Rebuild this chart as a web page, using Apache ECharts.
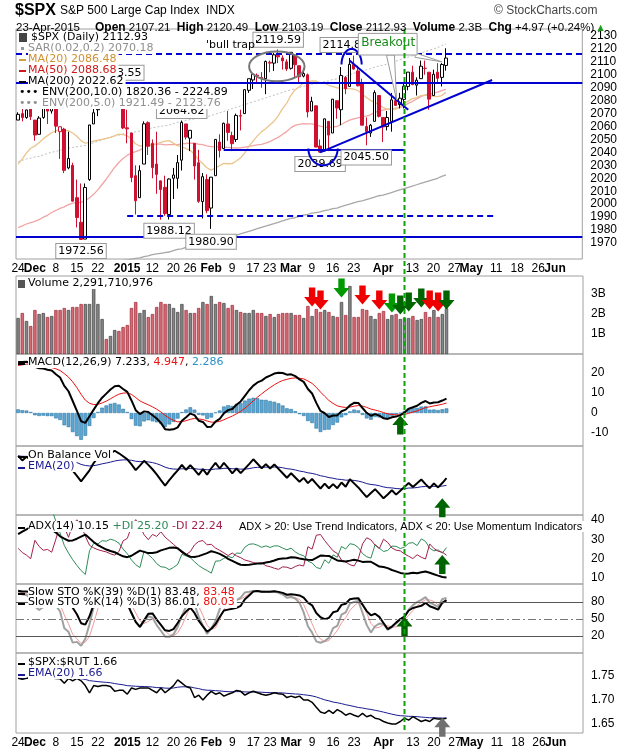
<!DOCTYPE html>
<html><head><meta charset="utf-8">
<script src="https://cdn.jsdelivr.net/npm/echarts/dist/echarts.min.js"></script>
<style>html,body{margin:0;padding:0;background:#fff}#c{width:620px;height:750px}</style>
</head><body><div id="c"></div>
<script>
// ---------- DATA ----------
const prefixClose=[1985.54,1984.13,1998.98,2001.57,2011.36,2010.40,1994.29,1982.77,1998.30,1965.99,1982.85,1977.80,1972.29,1946.16,1946.17,1967.90,1964.82,1935.10,1968.89,1928.21,1906.13,1874.74,1877.70,1862.49,1862.76,1886.76,1904.01,1941.28,1927.11,1950.82,1964.58,1961.63,1985.05,1982.30,1994.65,2018.05,2017.81,2012.10,2023.57,2031.21,2031.92,2038.26,2039.68,2038.25,2039.33,2039.82,2041.32,2051.80,2048.72,2052.75,2063.50];
const openP=[2065,2070,2067,2074,2065,2054,2067,2074,2072,2074,2056,2058,2028,2030,2005,1986,1973,2019,2062,2073,2081,2083,2084,2087,2089,2083,2059,2055,2022,2005,2031,2063,2047,2031,2018,2013,1992,2020,2020,2034,2062,2051,2047,2032,2002,2019,1997,2022,2048,2043,2062,2053,2050,2068,2070,2088,2096,2099,2098,2097,2109,2109,2115,2113,2110,2105,2115,2107,2099,2100,2072,2076,2045,2041,2064,2055,2080,2073,2098,2091,2108,2103,2093,2060,2055,2064,2084,2067,2060,2064,2080,2077,2081,2091,2102,2092,2097,2105,2102,2084,2102,2098,2107.21];
const highP=[2071,2074,2073,2075,2065,2068,2076,2076,2078,2076,2060,2059,2056,2032,2019,2016,2016,2061,2077,2079,2086,2087,2093,2093.55,2089,2086,2073,2055,2030,2030,2064,2064,2050,2056,2018,2022,2020,2028,2038,2064.62,2062,2057,2047,2042,2024,2023,2021,2050,2054,2063,2072,2056,2070,2073,2089,2097,2101,2101,2102,2111,2111,2117,2119.59,2115,2112,2117.5,2115,2107,2105,2101,2083,2076,2050,2066,2064,2081,2080,2106,2099,2113,2114.86,2107,2097,2067,2062,2088,2084,2067,2072,2086,2089,2086,2093,2102,2107,2098,2111,2111,2102,2104,2109,2109,2120.49];
const lowP=[2065,2064,2066,2065,2049,2054,2066,2062,2070,2055,2035,2024,2027,2002,1982,1972.56,1973,2018,2062,2068,2079,2081,2084,2086,2079,2058,2047,2017,1992,2005,2031,2038,2020,2008,1988,1991,1988.12,2004,2012,2026,2050,2041,2019,2001,1989,1993,1980.90,2022,2036,2043,2049,2041,2048,2057,2070,2086,2089,2093,2090,2085,2102,2103,2109,2104,2103,2104,2098,2094,2098,2067,2072,2044,2039.69,2041,2041,2055,2066,2061,2085,2091,2104,2091,2061,2045.50,2052,2064,2067,2048,2057,2056,2076,2074,2074,2088,2092,2084,2097,2100,2073,2084,2094,2091,2103.19];
const closeP=[2069.41,2067.03,2072.83,2067.56,2053.44,2066.55,2074.33,2071.92,2075.37,2060.31,2059.82,2026.14,2035.33,2002.33,1989.63,1972.74,2012.89,2061.23,2070.65,2078.54,2082.17,2081.88,2088.77,2090.57,2080.35,2058.90,2058.20,2020.58,2002.61,2025.90,2062.14,2044.81,2028.26,2023.03,2011.27,1992.67,2019.42,2022.55,2032.12,2063.15,2051.82,2057.09,2029.55,2002.16,2021.25,1994.99,2020.85,2050.03,2041.51,2062.52,2055.47,2046.74,2068.59,2068.53,2088.48,2096.99,2100.34,2099.68,2097.45,2110.30,2109.66,2115.48,2113.86,2110.74,2104.50,2117.39,2107.78,2098.53,2101.04,2071.26,2079.43,2044.16,2040.24,2065.95,2053.40,2081.19,2074.28,2099.50,2089.27,2108.10,2104.42,2091.50,2061.05,2056.15,2061.02,2086.24,2067.89,2059.69,2066.96,2080.62,2076.33,2081.90,2091.18,2102.06,2092.43,2095.84,2106.63,2104.99,2081.18,2100.40,2097.29,2107.96,2112.93];
const volumeB=[1.8,2.05,1.65,1.4,2.2,2.0,2.05,1.85,1.9,2.2,2.2,2.3,2.2,2.35,2.35,2.5,2.5,2.5,3.35,2.5,1.75,0.75,0.9,1.2,1.15,1.35,1.45,2.3,2.6,2.05,2.2,1.85,2.0,2.35,2.6,2.5,2.5,2.3,2.1,2.5,2.2,2.05,2.05,2.3,2.6,2.5,2.9,2.5,2.6,2.55,2.3,2.45,2.2,2.1,2.05,2.05,2.2,2.05,2.05,1.9,2.0,1.85,2.0,2.05,2.05,2.05,1.95,1.95,1.8,2.4,1.9,2.25,2.1,2.2,2.1,1.9,1.85,2.6,1.95,3.4,1.85,1.85,2.25,2.2,1.9,1.75,2.05,2.15,1.75,1.95,2.0,1.75,1.8,1.8,1.9,1.7,1.75,2.1,1.85,2.2,1.85,2.0,2.29];
const ma200=[1936,1937,1938,1938.5,1939.5,1940,1941,1942,1943,1943.5,1944.5,1945,1946,1946.5,1947,1947.5,1948,1949,1950,1951,1952,1953,1954,1955,1955.5,1956.5,1957,1957.5,1958,1958.5,1959.5,1960,1961,1961.5,1962,1962.5,1963,1964,1965,1965.5,1966.5,1967,1967.5,1968,1968.5,1969,1970,1971,1972,1973,1974,1975,1976,1977,1978,1979,1980,1981,1982,1983,1984,1985,1986,1987,1988,1989,1989.5,1990.5,1991.5,1992,1993,1993.5,1994,1995,1995.5,1996.5,1997,1998,1999,2000,2001,2002,2002.5,2003.5,2004.5,2005.5,2006.5,2007,2008,2009,2010,2011,2012,2013,2014,2015,2016,2017,2018,2019,2020,2021.5,2022.62];
const spxRut=[1.745,1.743,1.745,1.748,1.750,1.752,1.750,1.748,1.746,1.745,1.744,1.735,1.745,1.740,1.745,1.740,1.730,1.715,1.730,1.728,1.730,1.730,1.728,1.718,1.720,1.720,1.712,1.725,1.722,1.725,1.725,1.725,1.720,1.715,1.725,1.715,1.722,1.730,1.742,1.735,1.728,1.725,1.705,1.710,1.700,1.710,1.718,1.712,1.715,1.708,1.712,1.715,1.720,1.718,1.710,1.715,1.718,1.715,1.712,1.710,1.712,1.715,1.713,1.712,1.705,1.708,1.705,1.708,1.700,1.700,1.695,1.685,1.675,1.672,1.678,1.672,1.680,1.675,1.668,1.672,1.668,1.665,1.672,1.665,1.668,1.662,1.660,1.655,1.652,1.650,1.650,1.655,1.662,1.658,1.665,1.660,1.655,1.658,1.655,1.662,1.660,1.660,1.662];
const holidays=['2014-11-27','2014-12-25','2015-01-01','2015-01-19','2015-02-16','2015-04-03','2015-05-25'];
const tickLabels=[['2014-11-24','24'],['2014-12-01','Dec'],['2014-12-08','8'],['2014-12-15','15'],['2014-12-22','22'],['2015-01-02','2015'],['2015-01-12','12'],['2015-01-20','20'],['2015-01-26','26'],['2015-02-02','Feb'],['2015-02-09','9'],['2015-02-17','17'],['2015-02-23','23'],['2015-03-02','Mar'],['2015-03-09','9'],['2015-03-16','16'],['2015-03-23','23'],['2015-04-01','Apr'],['2015-04-13','13'],['2015-04-20','20'],['2015-04-27','27'],['2015-05-01','May'],['2015-05-11','11'],['2015-05-18','18'],['2015-05-26','26'],['2015-06-01','Jun']];
const boldLabels=['Dec','2015','Feb','Mar','Apr','May','Jun'];
const N_CATS=135;

// ---------- dates ----------
const dates=[];
{let d=new Date(Date.UTC(2014,10,24));while(dates.length<N_CATS){const w=d.getUTCDay();const s=d.toISOString().slice(0,10);if(w!==0&&w!==6&&holidays.indexOf(s)<0)dates.push(s);d=new Date(d.getTime()+86400000);}}
const lblMap={};tickLabels.forEach(t=>lblMap[t[0]]=t[1]);
const n=closeP.length, P=prefixClose.length;

// ---------- indicators ----------
function sma(a,k){return a.map((v,i)=>{if(i<k-1||v==null)return null;let s=0;for(let j=i-k+1;j<=i;j++){if(a[j]==null)return null;s+=a[j];}return s/k;});}
function ema(a,k){const al=2/(k+1);let e=null;return a.map(v=>{if(v==null)return e;e=e==null?v:e+al*(v-e);return e;});}
const fC=prefixClose.concat(closeP), fH=prefixClose.concat(highP), fL=prefixClose.concat(lowP);
const ma20=sma(fC,20).slice(P), ma50=sma(fC,50).slice(P);
const env5=ma200.map(v=>v*1.05);
const e12=ema(fC,12),e26=ema(fC,26);const macdF=e12.map((v,i)=>v-e26[i]);const sigF=ema(macdF,9);
const macd=macdF.slice(P),sig=sigF.slice(P),hist=macd.map((v,i)=>v-sig[i]);
function fastK(k){return fC.map((c,i)=>{const a=Math.max(0,i-k+1);let hh=-1e9,ll=1e9;for(let j=a;j<=i;j++){hh=Math.max(hh,fH[j]);ll=Math.min(ll,fL[j]);}return hh===ll?50:(c-ll)/(hh-ll)*100;});}
const sk39=sma(fastK(39),3).slice(P), sk14F=sma(fastK(14),3), sk14=sk14F.slice(P), sd14=sma(sk14F,3).slice(P);
const adx=[],pdi=[],mdi=[];{let sTR=0,sP=0,sM=0,cnt=0,dxs=[],ad=null;const A=[],PD=[],MD=[];
for(let i=1;i<fC.length;i++){const tr=Math.max(fH[i]-fL[i],Math.abs(fH[i]-fC[i-1]),Math.abs(fL[i]-fC[i-1]));const up=fH[i]-fH[i-1],dn=fL[i-1]-fL[i];const pm=(up>dn&&up>0)?up:0,mm=(dn>up&&dn>0)?dn:0;cnt++;
if(cnt<=14){sTR+=tr;sP+=pm;sM+=mm;}else{sTR=sTR-sTR/14+tr;sP=sP-sP/14+pm;sM=sM-sM/14+mm;}
let p=null,m=null,a=null;if(cnt>=14){p=100*sP/sTR;m=100*sM/sTR;const dx=(p+m)?100*Math.abs(p-m)/(p+m):0;if(ad==null){dxs.push(dx);if(dxs.length===14)ad=dxs.reduce((x,y)=>x+y)/14;}else ad=(ad*13+dx)/14;a=ad;}
A[i]=a;PD[i]=p;MD[i]=m;}
for(let i=P;i<fC.length;i++){adx.push(A[i]);pdi.push(PD[i]);mdi.push(MD[i]);}}
const obv=[];{let o=0;for(let i=0;i<n;i++){const pc=i?closeP[i-1]:prefixClose[P-1];if(closeP[i]>pc)o+=volumeB[i];else if(closeP[i]<pc)o-=volumeB[i];obv.push(o);}}
const obvE=ema(obv,20), ratioE=ema(spxRut,20);

// ---------- styling data ----------
const RED='#d01030';
const candleData=closeP.map((c,i)=>{const pc=i?closeP[i-1]:prefixClose[P-1];const col=c<pc?RED:'#000';const up=c>=openP[i];
return {value:[openP[i],c,lowP[i],highP[i]],itemStyle:{color:up?'#fff':col,color0:up?'#fff':col,borderColor:col,borderColor0:col,borderWidth:1}};});
const volData=volumeB.map((v,i)=>{const pc=i?closeP[i-1]:prefixClose[P-1];const dn=closeP[i]<pc;return {value:v,itemStyle:{color:dn?'#d36b74':'#858585',borderColor:dn?'#a02838':'#404040',borderWidth:0.7}};});

// ---------- layout ----------
const grids=[[29,230],[276,78],[354,92],[446,69],[515,69],[584,69],[653,80]];
const FONT='Liberation Sans';
function xAx(gi,show){return {type:'category',gridIndex:gi,data:dates,boundaryGap:true,axisLine:{show:false},axisTick:{show:false},splitLine:{show:false},
axisLabel:{show:show,interval:0,margin:4,fontFamily:FONT,fontSize:12,color:'#000',formatter:v=>{const l=lblMap[v];if(!l)return '';return boldLabels.indexOf(l)>=0?'{b|'+l+'}':l;},rich:{b:{fontWeight:'bold',fontSize:12,fontFamily:FONT,color:'#000'}}}};}
function yAx(gi,min,max,vals,fmt){return {type:'value',gridIndex:gi,position:'right',min:min,max:max,axisLine:{show:false},axisTick:{show:false},splitLine:{show:false},
axisLabel:{show:!!vals,customValues:vals||undefined,fontFamily:FONT,fontSize:12,color:'#000',margin:8,formatter:fmt||(v=>v)}};}
const obvMin=Math.min(...obv),obvMax=Math.max(...obv),obvR=obvMax-obvMin;
const xAxes=grids.map((g,i)=>xAx(i,i===0||i===6));
const yAxes=[
 yAx(0,1957.6,2135.4,[1970,1980,1990,2000,2010,2020,2030,2040,2050,2060,2070,2080,2090,2100,2110,2120,2130]),
 yAx(1,0,3.9,[1,2,3],v=>v+'B'),
 yAx(2,-16.5,29.5,[-10,0,10,20]),
 yAx(3,obvMin-obvR*0.35,obvMax+obvR*0.1,null),
 yAx(4,6.9,42.6,[10,20,30,40]),
 yAx(5,-9.8,111.8,[20,50,80]),
 yAx(6,1.631,1.798,[1.65,1.70,1.75],v=>v.toFixed(2))
];
function ln(name,data,gi,color,w,extra){return Object.assign({type:'line',name,data,xAxisIndex:gi,yAxisIndex:gi,symbol:'none',showSymbol:false,lineStyle:{color,width:w},itemStyle:{color},z:3,animation:false},extra||{});}
const BLUE='#0000d0';
function mlLine(a,b,dashed){return [{coord:[a[0],a[1]],lineStyle:{color:BLUE,width:2,type:dashed?[6,4]:'solid'}},{coord:[b[0],b[1]]}];}
function box(i,v,t){return {coord:[i,v],symbol:'rect',symbolSize:1,itemStyle:{color:'rgba(0,0,0,0)'},label:{show:true,position:'inside',formatter:t,backgroundColor:'#fff',borderColor:'#999',borderWidth:1,padding:[2,2,1,2],color:'#000',fontSize:11,fontFamily:'DejaVu Sans'}};}
const DOWN='path://M3,0 L7,0 L7,6 L10,6 L5,12 L0,6 L3,6 Z', UP='path://M5,0 L10,6 L7,6 L7,12 L3,12 L3,6 L0,6 Z';
function arrow(i,v,up,col){return {coord:[i,v],symbol:up?UP:DOWN,symbolSize:[16,19],itemStyle:{color:col},label:{show:false}};}
const G1='#009900',G2='#006400';

const series=[
 ln('ma200',ma200,0,'#a8a8a8',1.3),
 ln('env5',env5,0,'#c0c0c0',1,{lineStyle:{color:'#c0c0c0',width:1,type:[2,2]}}),
 ln('ma50',ma50,0,'#f2a5a5',1.3),
 ln('ma20',ma20,0,'#ebc48c',1.3),
 {type:'candlestick',data:candleData,xAxisIndex:0,yAxisIndex:0,barWidth:3,z:4,animation:false,
  markLine:{symbol:'none',silent:true,label:{show:false},animation:false,data:[
   {yAxis:2116.5,lineStyle:{color:BLUE,width:2,type:[6,4]}},
   {yAxis:2093.5,lineStyle:{color:BLUE,width:2,type:'solid'}},
   {yAxis:1974.5,lineStyle:{color:BLUE,width:2,type:'solid'}},
   mlLine([26,1991],[114,1991],true),
   mlLine([49,2042],[92,2042],false),
   mlLine([72,2040],[113,2096],false),
   mlLine([79,2111],[93,2073],false)]},
  markPoint:{animation:false,data:[box(62,2127,'2119.59'),box(78,2123,'2114.86'),box(24,2101.5,'2093.55'),box(39,2072,'2064.62'),box(36,1979.5,'1988.12'),box(46,1971,'1980.90'),box(15,1963.7,'1972.56'),box(72,2031,'2039.69'),box(83,2036,'2045.50'),
   {coord:[51,2123],symbol:'rect',symbolSize:1,itemStyle:{color:'rgba(0,0,0,0)'},label:{show:true,position:'inside',formatter:"'bull trap'",color:'#000',fontSize:11,fontFamily:'DejaVu Sans'}}]}},
 {type:'bar',data:volData,xAxisIndex:1,yAxisIndex:1,barWidth:3.3,animation:false,
  markPoint:{animation:false,data:[arrow(70,2.85,false,'#ee0000'),arrow(72,2.7,false,'#ee0000'),arrow(77,3.3,false,G1),arrow(79,4.1,false,G1),arrow(82,2.95,false,'#ee0000'),arrow(86,2.7,false,'#ee0000'),arrow(89,2.55,false,G1),arrow(91,2.45,false,G2),arrow(93,2.6,false,G2),arrow(96,2.8,false,G2),arrow(98,2.7,false,'#ee0000'),arrow(100,2.6,false,'#ee0000'),arrow(102,2.7,false,G2)]}},
 {type:'bar',data:hist,xAxisIndex:2,yAxisIndex:2,barWidth:3.6,itemStyle:{color:'#5ba6d2',borderColor:'#1f6a9a',borderWidth:0.5},animation:false,
  markPoint:{animation:false,data:[arrow(91,-6,true,G2)]}},
 ln('sig',sig,2,'#ee1111',1),
 ln('macd',macd,2,'#000',2),
 ln('obvE',obvE,3,'#1a1a90',1),
 ln('obv',obv,3,'#000',2,{markPoint:{animation:false,data:[arrow(101,obvMin-obvR*0.2,true,G2)]}}),
 ln('pdi',pdi,4,'#2e8b57',1),
 ln('mdi',mdi,4,'#a3204e',1),
 ln('adx',adx,4,'#000',2,{markPoint:{animation:false,data:[arrow(101,17,true,G2)]}}),
 ln('sd14',sd14,5,'#f29a9a',1),
 ln('sk14',sk14,5,'#a0a0a0',2),
 ln('sk39',sk39,5,'#000',2,{markLine:{symbol:'none',silent:true,label:{show:false},animation:false,data:[{yAxis:80,lineStyle:{color:'#555',width:1,type:'solid'}},{yAxis:20,lineStyle:{color:'#555',width:1,type:'solid'}},{yAxis:50,lineStyle:{color:'#777',width:1,type:[8,3,2,3]}}]},markPoint:{animation:false,data:[arrow(92,37,true,G2)]}}),
 ln('rE',ratioE,6,'#1a1a90',1),
 ln('ratio',spxRut,6,'#000',1.5,{markPoint:{animation:false,data:[arrow(101,1.643,true,'#707070')]}})
];
const chart=echarts.init(document.getElementById('c'),null,{renderer:'canvas'});
chart.setOption({animation:false,backgroundColor:'#fff',
 grid:grids.map(g=>({left:16,right:37,top:g[0],height:g[1],show:true,borderColor:'#a0a0a0',borderWidth:1,backgroundColor:'transparent'})),
 xAxis:xAxes,yAxis:yAxes,series});

// ---------- annotations ----------
const step=567/N_CATS;const px=i=>16+(i+0.5)*step;const py=v=>chart.convertToPixel({yAxisIndex:0},v);
const gr=[];
const LF='11px "DejaVu Sans"';
function T(x,y,text,rich,bg,fill,font){gr.push({type:'text',x,y,z:50,style:{text,rich,font:font||LF,fill:fill||'#000',backgroundColor:bg?'#fff':undefined,padding:bg?[0,2,0,0]:0}});}
function dash(x,y,c){gr.push({type:'rect',z:51,shape:{x,y,width:7,height:2},style:{fill:c||'#000'}});}
{const cx=px(61.6),cy=py(2106.5),rx=6.6*step,ry=(py(2095)-py(2118))/2;gr.push({type:'ellipse',z:10,shape:{cx,cy,rx,ry},style:{fill:'none',stroke:'#777',lineWidth:2}});}
function halfEl(ci,cv,rdays,rval,lower){const pts=[];for(let k=0;k<=24;k++){const t=Math.PI*k/24;pts.push([px(ci+rdays*Math.cos(t)),py(cv+(lower?-1:1)*rval*Math.sin(t))]);}gr.push({type:'polyline',z:10,shape:{points:pts},style:{stroke:BLUE,lineWidth:2,fill:'none'}});}
halfEl(72.6,2043,3.5,13,true);halfEl(79.4,2108,2.4,12,false);
gr.push({type:'polygon',z:20,shape:{points:[[px(87.7),py(2115.3)],[px(90.1),py(2080.6)],[px(89.6),py(2115.3)]]},style:{fill:'#fff',stroke:'#999',lineWidth:1}});
gr.push({type:'polygon',z:20,shape:{points:[[px(94.5),py(2117)],[px(100.9),py(2110)],[px(94.5),py(2113.5)]]},style:{fill:'#fff',stroke:'#999',lineWidth:1}});
gr.push({type:'rect',z:21,shape:{x:px(81),y:py(2132),width:14*step,height:py(2115.3)-py(2132)},style:{fill:'#fff',stroke:'#999',lineWidth:1}});
gr.push({type:'text',z:22,x:px(81)+3,y:py(2129.5),style:{text:'Breakout',font:'12px "DejaVu Sans"',fill:'#1a8a1a'}});
gr.push({type:'line',z:30,shape:{x1:px(92),y1:29,x2:px(92),y2:733},style:{stroke:'#11a011',lineWidth:2,lineDash:[5,3]}});
// header
gr.push({type:'text',x:15,y:3,z:50,style:{text:'$SPX',font:'bold 16px "Liberation Sans"',fill:'#000'}});
gr.push({type:'text',x:60,y:5,z:50,style:{text:'S&P 500 Large Cap Index  INDX',font:'12px "Liberation Sans"',fill:'#000'}});
gr.push({type:'text',x:494,y:5,z:50,style:{text:'© StockCharts.com',font:'12px "Liberation Sans"',fill:'#444'}});
gr.push({type:'text',x:16,y:22,z:50,style:{text:'23-Apr-2015',font:'11.5px "Liberation Sans"',fill:'#000'}});
gr.push({type:'text',x:95,y:22,z:50,style:{text:'{b|Open} 2107.21  {b|High} 2120.49  {b|Low} 2103.19  {b|Close} 2112.93  {b|Volume} 2.3B  {b|Chg} +4.97 (+0.24%) {g|▲}',font:'11.5px "Liberation Sans"',fill:'#000',rich:{b:{fontWeight:'bold',font:'bold 11.5px "Liberation Sans"'},g:{fill:'#1a9a1a',font:'8px "DejaVu Sans"'}}}});
// main legend
const mx=19;
gr.push({type:'rect',z:51,shape:{x:mx,y:33,width:8,height:9},style:{fill:'#444'}});
T(mx+12,32,'$SPX (Daily) 2112.93',null,true);
gr.push({type:'rect',z:51,shape:{x:mx+2,y:47,width:3,height:3},style:{fill:'#999'}});
T(mx+9,43,'SAR(0.02,0.2) 2070.18',null,true,'#909090');
dash(mx,59,'#d4a040');T(mx+9,54,'MA(20) 2086.48',null,true,'#d09030');
dash(mx,70,'#d01818');T(mx+9,65,'MA(50) 2088.68',null,true,'#d01818');
dash(mx,81);T(mx+9,76,'MA(200) 2022.62',null,true);
T(mx,87,'••• ENV(200,10.0) 1820.36 - 2224.89',null,true);
T(mx,98,'••• ENV(200,5.0) 1921.49 - 2123.76',null,true,'#909090');
// panel legends
const rr=(c)=>({fill:c,font:LF});
gr.push({type:'rect',z:51,shape:{x:18,y:280,width:7,height:8},style:{fill:'#555'}});T(28,278,'Volume 2,291,710,976',null,true);
dash(18,363);T(28,357,'MACD(12,26,9) 7.233, {r|4.947}, {b|2.286}',{r:rr('#ee1111'),b:rr('#2a90c8')},true);
dash(18,456);T(28,450,'On Balance Vol',null,true);
dash(18,467,'#1a1a90');T(28,461,'EMA(20)',null,true,'#1a1a90');
dash(18,527);T(28,521,'ADX(14) 10.15 {g|+DI 25.20} {r|-DI 22.24}',{g:rr('#2e8b57'),r:rr('#a3204e')},true);
T(239,521,'ADX > 20: Use Trend Indicators, ADX < 20: Use Momentum Indicators',null,true,'#000','11px "Liberation Sans"');
dash(18,593);T(28,587,'Slow STO %K(39) %D(1) 83.48, {r|83.48}',{r:rr('#ee1111')},true);
dash(18,603);T(28,597,'Slow STO %K(14) %D(3) 86.01, {r|80.03}',{r:rr('#ee1111')},true);
dash(18,663);T(28,657,'$SPX:$RUT 1.66',null,true);
dash(18,674,'#1a1a90');T(28,668,'EMA(20) 1.66',null,true,'#1a1a90');
chart.setOption({graphic:gr});
</script></body></html>
